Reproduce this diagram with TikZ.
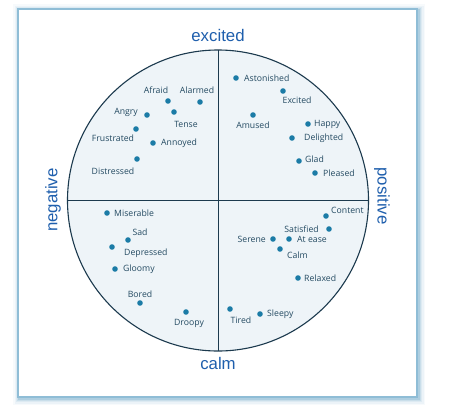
\documentclass[tikz,border=0pt]{standalone}
\usepackage{fontspec}
\setmainfont{Open Sans}
\newfontfamily\axisfont{Liberation Sans}
\definecolor{glow}{HTML}{6FA8C8}
\definecolor{frameline}{HTML}{8FBDD6}
\definecolor{discfill}{HTML}{EEF4F8}
\definecolor{discline}{HTML}{1C3A4E}
\definecolor{dotc}{HTML}{1B7BA6}
\definecolor{wordc}{HTML}{244A62}
\definecolor{axisc}{HTML}{1F5FAD}
\tikzset{
  emo/.style={circle,fill=dotc,inner sep=0pt,minimum size=5.6pt},
  word/.style={text=wordc,inner sep=0pt,font=\fontsize{8.7}{10}\selectfont},
  axis/.style={text=axisc,inner sep=0pt,font=\axisfont\fontsize{16.8}{18}\selectfont},
}
\begin{document}
\begin{tikzpicture}[x=1pt,y=-1pt]
\useasboundingbox (0,0) rectangle (457,413);
% frame glow
\foreach \w/\o in {13/0.06,10/0.08,7/0.12,4.5/0.18,2.5/0.3}{
  \draw[glow,line width=\w pt,opacity=\o] (19.5,10.5) rectangle (418.5,398.5);
}
\filldraw[fill=white,draw=frameline,line width=1.2pt] (18,9) rectangle (417,397);
% disc
\coordinate (c) at (218,200.5);
\filldraw[fill=discfill,draw=discline,line width=1.1pt] (c) circle (150.5);
\coordinate (top) at (218,50);
\coordinate (bot) at (218,351);
\coordinate (lft) at (67.5,200.5);
\coordinate (rgt) at (368.5,200.5);
\draw[discline,line width=1pt] (top) -- (bot);
\draw[discline,line width=1pt] (lft) -- (rgt);
% axis labels
\node[axis] (ax1) at (218,35) {excited};
\node[axis] (ax2) at (218,363) {calm};
\node[axis,rotate=90] (ax3) at (53,200) {negative};
\node[axis,rotate=-90] (ax4) at (382,196) {positive};
% dots and words
\node[emo] (d1) at (236,78) {};   \node[word,anchor=west] (w1) at (244,78) {Astonished};
\node[emo] (d2) at (283,91) {};   \node[word,anchor=west] (w2) at (282.5,100.5) {Excited};
\node[emo] (d3) at (253,115) {};  \node[word] (w3) at (253,125) {Amused};
\node[emo] (d4) at (308,124) {};  \node[word,anchor=west] (w4) at (314,124) {Happy};
\node[emo] (d5) at (292,138) {};  \node[word,anchor=west] (w5) at (304,138) {Delighted};
\node[emo] (d6) at (299,161) {};  \node[word,anchor=west] (w6) at (305,159) {Glad};
\node[emo] (d7) at (315,173) {};  \node[word,anchor=west] (w7) at (323,173) {Pleased};
\node[emo] (d8) at (168,101) {};  \node[word] (w8) at (156,90) {Afraid};
\node[emo] (d9) at (200,102) {};  \node[word] (w9) at (197,90) {Alarmed};
\node[emo] (d10) at (147,115) {}; \node[word,anchor=east] (w10) at (138,112) {Angry};
\node[emo] (d11) at (174,112) {}; \node[word] (w11) at (186,124) {Tense};
\node[emo] (d12) at (136,129) {}; \node[word] (w12) at (113,138) {Frustrated};
\node[emo] (d13) at (153,143) {}; \node[word,anchor=west] (w13) at (161,143) {Annoyed};
\node[emo] (d14) at (137,159) {}; \node[word] (w14) at (113,171) {Distressed};
\node[emo] (d15) at (107,213) {}; \node[word,anchor=west] (w15) at (114,213) {Miserable};
\node[emo] (d16) at (128,240) {}; \node[word] (w16) at (140,232) {Sad};
\node[emo] (d17) at (112,247) {}; \node[word,anchor=west] (w17) at (124,253) {Depressed};
\node[emo] (d18) at (115,269) {}; \node[word,anchor=west] (w18) at (123,269) {Gloomy};
\node[emo] (d19) at (140,303) {}; \node[word] (w19) at (140,294) {Bored};
\node[emo] (d20) at (186,312) {}; \node[word] (w20) at (189,323) {Droopy};
\node[emo] (d21) at (326,216) {}; \node[word,anchor=west] (w21) at (331,210) {Content};
\node[emo] (d22) at (329,229) {}; \node[word,anchor=east] (w22) at (319,229) {Satisfied};
\node[emo] (d23) at (273,239) {}; \node[word,anchor=east] (w23) at (266,239) {Serene};
\node[emo] (d24) at (289,239) {}; \node[word,anchor=west] (w24) at (297,239) {At ease};
\node[emo] (d25) at (280,249) {}; \node[word,anchor=west] (w25) at (287,255) {Calm};
\node[emo] (d26) at (298,278) {}; \node[word,anchor=west] (w26) at (304,278) {Relaxed};
\node[emo] (d27) at (230,309) {}; \node[word] (w27) at (241,320) {Tired};
\node[emo] (d28) at (260,314) {}; \node[word,anchor=west] (w28) at (267,314) {Sleepy};
\end{tikzpicture}
\end{document}
